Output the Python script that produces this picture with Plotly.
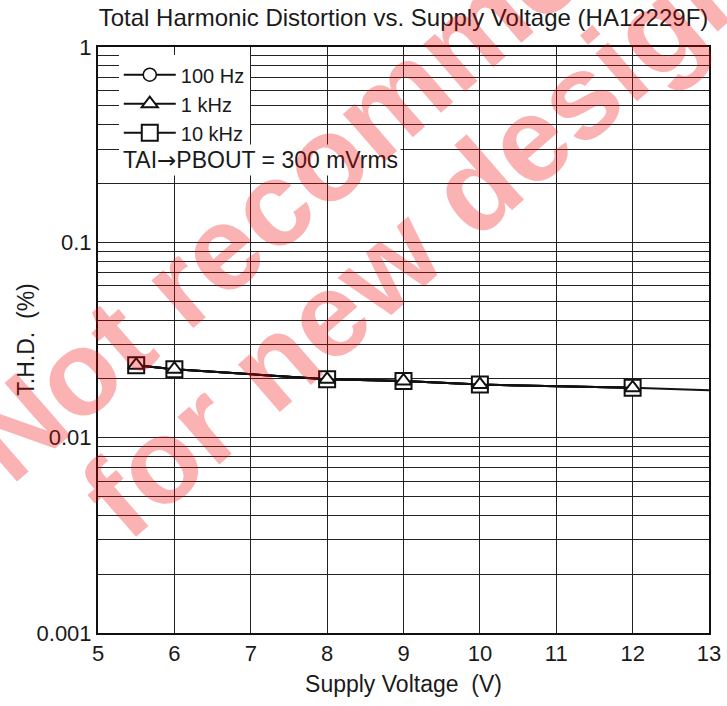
import plotly.graph_objs as go

# supply voltage (V) at the measured points
voltage = [5.5, 6, 8, 9, 10, 12]
# T.H.D. (%) per signal frequency -- the three curves sit on top of each other
thd_100hz = [0.0235, 0.0224, 0.0199, 0.0195, 0.0187, 0.0180]
thd_1khz = [0.0235, 0.0224, 0.0199, 0.0195, 0.0187, 0.0180]
thd_10khz = [0.0235, 0.0224, 0.0199, 0.0195, 0.0187, 0.0180]
# the drawn curve runs on to the right edge
curve_voltage = [5.5, 6, 8, 9, 10, 12, 13]
curve_thd = [0.0235, 0.0224, 0.0199, 0.0195, 0.0187, 0.0180, 0.0175]

x_ticks = [5, 6, 7, 8, 9, 10, 11, 12, 13]
y_decades = [0.001, 0.01, 0.1, 1]
y_decade_labels = ["0.001", "0.01", "0.1", "1"]

FONT = "Liberation Sans, Arial, Helvetica, sans-serif"

# every 1..9 step of each decade gets a grid line, only decades get a label
y_grid = []
y_grid_text = []
for d, lab in zip(y_decades[:-1], y_decade_labels[:-1]):
    for m in range(1, 10):
        y_grid.append(d * m)
        y_grid_text.append(lab if m == 1 else "")
y_grid.append(y_decades[-1])
y_grid_text.append(y_decade_labels[-1])

fig = go.Figure()

fig.add_trace(go.Scatter(
    x=curve_voltage, y=curve_thd, mode="lines", showlegend=False,
    line=dict(color="#111111", width=2), hoverinfo="skip"
))
fig.add_trace(go.Scatter(
    x=voltage, y=thd_100hz, mode="lines+markers", name="100 Hz", legendrank=1,
    line=dict(color="#111111", width=2),
    marker=dict(symbol="circle", size=13, color="white", line=dict(color="#111111", width=1.5))
))
fig.add_trace(go.Scatter(
    x=voltage, y=thd_10khz, mode="lines+markers", name="10 kHz", legendrank=3,
    line=dict(color="#111111", width=2),
    marker=dict(symbol="square", size=16, color="white", line=dict(color="#111111", width=2))
))
fig.add_trace(go.Scatter(
    x=voltage, y=thd_1khz, mode="lines+markers", name="1 kHz", legendrank=2,
    line=dict(color="#111111", width=2),
    marker=dict(symbol="triangle-up", size=14, color="white", line=dict(color="#111111", width=2))
))

fig.update_layout(
    width=727, height=706,
    margin=dict(l=98, r=18, t=47, b=73, autoexpand=False),
    paper_bgcolor="white", plot_bgcolor="white",
    font=dict(family=FONT, size=22, color="#1a1a1a"),
    title=dict(text="Total Harmonic Distortion vs. Supply Voltage (HA12229F)",
               x=0.5, xref="paper", xanchor="center",
               y=1 - 18 / 706, yref="container", yanchor="middle",
               font=dict(size=24), automargin=False),
    showlegend=True,
    legend=dict(x=0.034, y=0.986, xanchor="left", yanchor="top",
                bgcolor="white", borderwidth=0, itemwidth=52,
                font=dict(size=20), traceorder="normal"),
)

fig.update_xaxes(
    range=[5, 13], tickvals=x_ticks, ticks="", automargin=False,
    showgrid=True, gridcolor="#222222", gridwidth=1,
    showline=True, linecolor="#111111", linewidth=2, mirror=True,
    zeroline=False, tickfont=dict(size=22),
    title=dict(text="Supply Voltage  (V)", standoff=10, font=dict(size=23)),
)
fig.update_yaxes(
    type="log", range=[-3, 0], tickvals=y_grid, ticktext=y_grid_text, ticks="",
    automargin=False,
    showgrid=True, gridcolor="#222222", gridwidth=1,
    showline=True, linecolor="#111111", linewidth=2, mirror=True,
    zeroline=False, tickfont=dict(size=22),
)

# y-axis title sits closer to the tick labels than plotly's standoff allows
fig.add_annotation(
    text="T.H.D.  (%)", xref="paper", yref="paper", x=(26 - 98.3) / 611, y=0.5,
    xanchor="center", yanchor="middle", textangle=-90, showarrow=False,
    font=dict(size=23)
)

fig.add_annotation(
    text='TAI<span style="font-family:DejaVu Sans">\u2192</span>PBOUT = 300 mVrms',
    xref="paper", yref="paper",
    x=0.036, y=(633 - 160) / 586, xanchor="left", yanchor="middle", showarrow=False,
    bgcolor="white", borderpad=2, font=dict(size=23)
)

# watermark
wm_font = dict(family="Liberation Sans, Arial, sans-serif", size=120, color="rgba(240,0,0,0.3)")
fig.add_annotation(text="<b>Not recommended</b>", xref="paper", yref="paper",
                   x=0.4637, y=0.8942, xanchor="center", yanchor="middle",
                   textangle=-41, showarrow=False, font=wm_font)
fig.add_annotation(text="<b>for new designs</b>", xref="paper", yref="paper",
                   x=0.5674, y=0.7167, xanchor="center", yanchor="middle",
                   textangle=-41, showarrow=False, font=wm_font)

# drop the browser's default body margin so the figure sits at the page corner
fig.write_html("out.html", config={"displayModeBar": False},
               post_script="document.body.style.margin='0';")
